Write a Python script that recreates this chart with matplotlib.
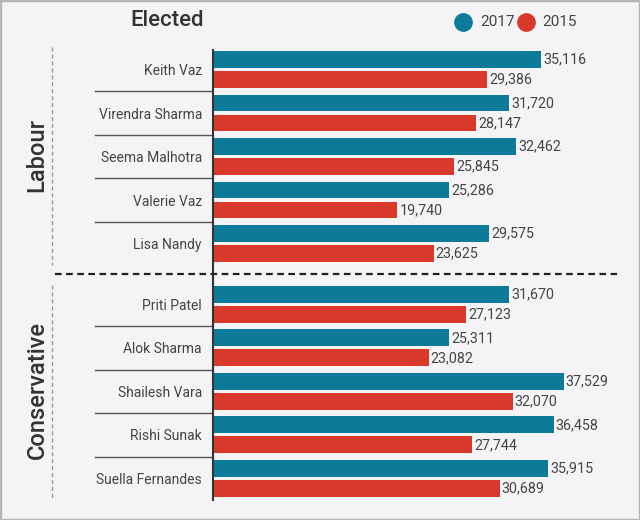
import matplotlib
matplotlib.use("Agg")
import matplotlib.pyplot as plt
from matplotlib.lines import Line2D
from matplotlib.patches import Rectangle
import matplotlib.transforms as mtransforms

plt.rcParams['font.family'] = ['Roboto', 'DejaVu Sans']

names_labour = ["Keith Vaz", "Virendra Sharma", "Seema Malhotra", "Valerie Vaz", "Lisa Nandy"]
names_cons = ["Priti Patel", "Alok Sharma", "Shailesh Vara", "Rishi Sunak", "Suella Fernandes"]
votes_2017 = [35116, 31720, 32462, 25286, 29575, 31670, 25311, 37529, 36458, 35915]
votes_2015 = [29386, 28147, 25845, 19740, 23625, 27123, 23082, 32070, 27744, 30689]
series_labels = ["2017", "2015"]
groups = ["Labour", "Conservative"]

C17 = "#0c7b99"
C15 = "#d8392b"
TXT = "#444444"
BG = "#f4f4f6"

W, H = 640, 520
fig = plt.figure(figsize=(6.4, 5.2), dpi=100, facecolor=BG)
fig.add_artist(Rectangle((0, 0), 1, 1, transform=fig.transFigure, fill=False,
                         edgecolor="#b5b5b5", linewidth=2.5))

def fx(px):
    return px / W

def fy(py):
    return 1 - py / H

ax_left, ax_right, ax_top, ax_bot = 213, 620, 50, 500
ax = fig.add_axes([fx(ax_left), fy(ax_bot), fx(ax_right - ax_left), (ax_bot - ax_top) / H])
ax.set_facecolor("none")

names = names_labour + names_cons
gap = 0.4
ypos = [i for i in range(len(names_labour))] + [len(names_labour) + gap + j for j in range(len(names_cons))]

off = 0.23
bh = 0.39
y17 = [y - off for y in ypos]
y15 = [y + off for y in ypos]
ax.barh(y17, votes_2017, height=bh, color=C17, zorder=2)
ax.barh(y15, votes_2015, height=bh, color=C15, zorder=2)

for y, v in zip(y17, votes_2017):
    ax.annotate(f"{v:,}", (v, y), xytext=(1.5, 0), textcoords="offset points",
                va="center", ha="left", fontsize=10.3, color=TXT)
for y, v in zip(y15, votes_2015):
    ax.annotate(f"{v:,}", (v, y), xytext=(1.5, 0), textcoords="offset points",
                va="center", ha="left", fontsize=10.3, color=TXT)

ax.set_xlim(0, 43575)
ax.set_ylim((ax_bot - 69.5) / 43.5, (ax_top - 69.5) / 43.5)
ax.set_xticks([])
ax.set_yticks(ypos)
ax.set_yticklabels(names, fontsize=10, color=TXT)
ax.tick_params(axis="y", length=0, pad=8)
for s in ["top", "right", "bottom"]:
    ax.spines[s].set_visible(False)
ax.spines["left"].set_color("#333333")
ax.spines["left"].set_linewidth(1.5)
ax.spines["left"].set_zorder(3)

trans = mtransforms.blended_transform_factory(ax.transAxes, ax.transData)
sep_x0 = (95 - ax_left) / (ax_right - ax_left)
for grp in (ypos[:5], ypos[5:]):
    for a, b in zip(grp[:-1], grp[1:]):
        yy = (a + b) / 2
        ax.plot([sep_x0, 0], [yy, yy], transform=trans, color="#555555", lw=1.0, clip_on=False)

ysep = (ypos[4] + ypos[5]) / 2
ax.plot([(55 - ax_left) / (ax_right - ax_left), (617 - ax_left) / (ax_right - ax_left)], [ysep, ysep],
        transform=trans, color="#222222", lw=1.6, ls=(0, (3, 2)), clip_on=False, zorder=4)

# group side lines and labels
fig.add_artist(Line2D([fx(52), fx(52)], [fy(47), fy(265)], transform=fig.transFigure,
                      color="#999999", lw=1.0, ls=(0, (3, 2))))
fig.add_artist(Line2D([fx(52), fx(52)], [fy(285), fy(500)], transform=fig.transFigure,
                      color="#999999", lw=1.0, ls=(0, (3, 2))))
fig.text(fx(37), fy(155), groups[0], rotation=90, ha="center", va="center", fontsize=17, color="#333333",
         fontweight="medium")
fig.text(fx(37), fy(390), groups[1], rotation=90, ha="center", va="center", fontsize=17, color="#333333",
         fontweight="medium")

# title and legend
fig.text(fx(130), fy(21), "Elected", ha="left", va="center", fontsize=16, color="#333333", fontweight="medium")
fig.add_artist(Line2D([fx(463)], [fy(22)], transform=fig.transFigure, marker="o", markersize=13.5,
                      color=C17, markeredgewidth=0))
fig.text(fx(480), fy(22), series_labels[0], ha="left", va="center", fontsize=11, color=TXT)
fig.add_artist(Line2D([fx(526)], [fy(22)], transform=fig.transFigure, marker="o", markersize=13.5,
                      color=C15, markeredgewidth=0))
fig.text(fx(542), fy(22), series_labels[1], ha="left", va="center", fontsize=11, color=TXT)

fig.savefig("out.png", dpi=100, facecolor=BG)
